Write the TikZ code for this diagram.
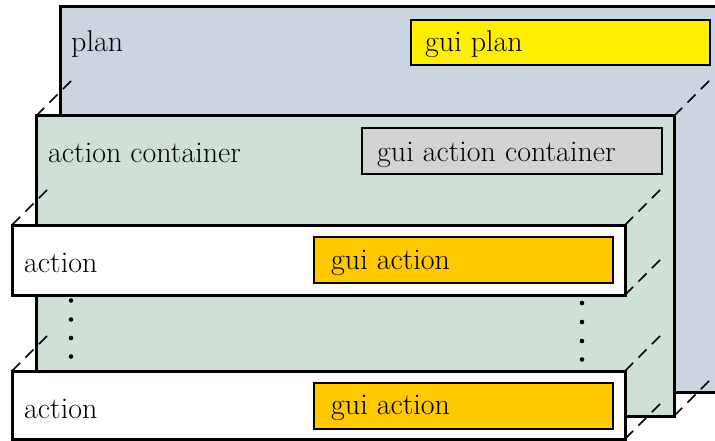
\documentclass[tikz,border=0pt]{standalone}
\usetikzlibrary{calc}

\definecolor{planbg}{HTML}{CBD5E0}
\definecolor{contbg}{HTML}{CFE1D6}
\definecolor{guiyellow}{HTML}{FFEE00}
\definecolor{guigray}{HTML}{D3D3D3}
\definecolor{guiorange}{HTML}{FFC800}

\tikzset{
  layer/.style={draw=black, line width=3pt, rectangle, inner sep=0pt, outer sep=0pt, anchor=north west},
  guibox/.style={draw=black, line width=2.8pt, rectangle, inner sep=0pt, outer sep=0pt, anchor=north west},
  caption/.style={anchor=base west, inner sep=0pt, font=\fontsize{30}{36}\selectfont},
  depth/.style={draw=black, line width=1.5pt, dash pattern=on 11.5pt off 7.5pt},
  dotmark/.style={circle, fill=black, inner sep=0pt, minimum size=4.6pt},
}

\begin{document}
\begin{tikzpicture}[x=1pt, y=-1pt]
  \useasboundingbox (0,0) rectangle (715,441);
  \clip (0,0) rectangle (715,441);

  % plan layer (extends past the right border)
  \node[layer, fill=planbg, minimum width=700pt, minimum height=385pt] (plan) at (60,7) {};
  \node[guibox, fill=guiyellow, minimum width=299pt, minimum height=45pt] (guiplan) at (411,20) {};
  \node[caption] (plantext) at (71,52) {plan};
  \node[caption] (guiplantext) at (425,52) {gui plan};

  % action container layer
  \node[layer, fill=contbg, minimum width=638pt, minimum height=300pt] (cont) at (36,116) {};
  \node[guibox, fill=guigray, minimum width=300pt, minimum height=46pt] (guicont) at (362,128) {};
  \node[caption] (conttext) at (48,163) {action container};
  \node[caption] (guiconttext) at (377,162) {gui action container};
  \draw[depth] (cont.north west) -- ++(40,-40);
  \draw[depth] (cont.north east) -- ++(40,-40);
  \draw[depth] (cont.south east) -- ++(40,-40);

  % first action
  \node[layer, fill=white, minimum width=613pt, minimum height=70pt] (act1) at (12,225) {};
  \node[guibox, fill=guiorange, minimum width=299pt, minimum height=46pt] (guiact1) at (314,237) {};
  \node[caption] (act1text) at (24,272) {action};
  \node[caption] (guiact1text) at (331,269) {gui action};
  \draw[depth] (act1.north west) -- ++(40,-40);
  \draw[depth] (act1.north east) -- ++(40,-40);
  \draw[depth] (act1.south east) -- ++(40,-40);

  % ellipsis between the actions
  \foreach \i/\y in {1/300.5, 2/319.5, 3/338, 4/356.5} {
    \node[dotmark] (ldot\i) at (71,\y) {};
  }
  \foreach \i/\y in {1/303, 2/322, 3/341, 4/359.5} {
    \node[dotmark] (rdot\i) at (582,\y) {};
  }

  % last action
  \node[layer, fill=white, minimum width=613pt, minimum height=68pt] (act2) at (12,371) {};
  \node[guibox, fill=guiorange, minimum width=299pt, minimum height=46pt] (guiact2) at (314,383) {};
  \node[caption] (act2text) at (24,418) {action};
  \node[caption] (guiact2text) at (331,414) {gui action};
  \draw[depth] (act2.north west) -- ++(40,-40);
  \draw[depth] (act2.north east) -- ++(40,-40);
  \draw[depth] (act2.south east) -- ++(40,-40);
\end{tikzpicture}
\end{document}
